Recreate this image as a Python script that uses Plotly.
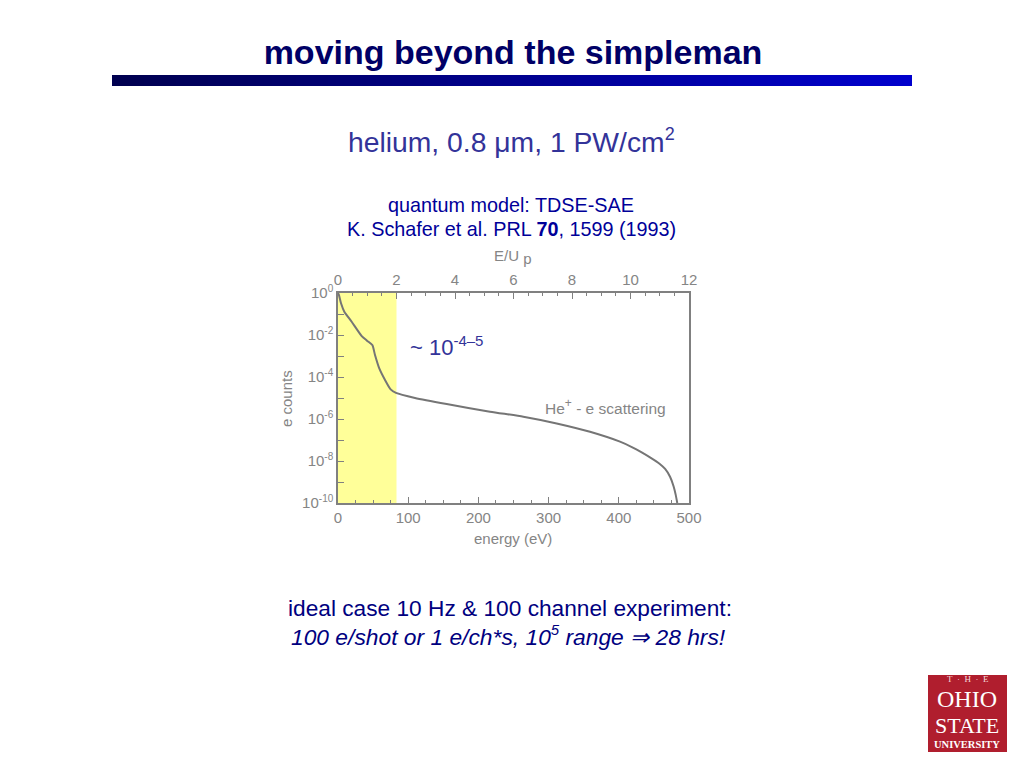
import plotly.graph_objects as go

# Data
energy_ev = [0, 1.4, 4.3, 9, 19.5, 33.8, 41.3, 48.9, 52.7, 58.8, 67, 75, 82.6, 109.7, 154.8,
             216.5, 264, 311.5, 359, 401.7, 420, 432, 445, 458, 466, 473, 478, 481, 483.3]
log10_counts = [0, -0.10, -0.49, -0.89, -1.37, -2.05, -2.27, -2.48, -2.95, -3.59, -4.14, -4.59,
                -4.76, -5.0, -5.29, -5.65, -5.89, -6.21, -6.61, -7.08, -7.36, -7.58, -7.84,
                -8.13, -8.38, -8.75, -9.2, -9.6, -10]
energy_ticks = [0, 100, 200, 300, 400, 500]
up_ticks = [0, 2, 4, 6, 8, 10, 12]
count_exponents = [0, -2, -4, -6, -8, -10]
minor_exponents = [-1, -3, -5, -7, -9]
band_up = [0, 2]

W, H = 1024, 768
px = lambda x: x / W
py = lambda y: 1 - y / H
GREY = "#858585"
FONT = "Liberation Sans"

fig = go.Figure()
fig.add_trace(go.Scatter(
    x=energy_ev, y=[10 ** v for v in log10_counts], mode="lines",
    line=dict(color="#757575", width=2, shape="spline", smoothing=0.6),
    showlegend=False, hoverinfo="skip", xaxis="x", yaxis="y"))
fig.add_trace(go.Scatter(
    x=band_up, y=[None, None], mode="lines", showlegend=False,
    hoverinfo="skip", xaxis="x2", yaxis="y"))

shapes = [dict(type="rect", xref="x2", yref="paper", x0=band_up[0], x1=band_up[1],
               y0=py(503), y1=py(293), fillcolor="#FFFF99", line_width=0, layer="below")]
# Gradient rule below the title: each step runs to the right end, so no seams show
n = 100
for i in range(n):
    t = i / (n - 1)
    c = f"rgb(0,0,{int(80 + t * 125)})"
    shapes.append(dict(type="rect", xref="paper", yref="paper",
                       x0=px(112 + 8 * i), x1=px(912),
                       y0=py(86), y1=py(75), fillcolor=c, line_width=0, layer="above"))
# Logo block
shapes.append(dict(type="rect", xref="paper", yref="paper", x0=px(928), x1=px(1007),
                   y0=py(752), y1=py(675), fillcolor="#B01E2E", line_width=0))


def note(x, y, text, size, color="#333399", family=FONT, **kw):
    return dict(xref="paper", yref="paper", x=px(x), y=py(y), text=text, showarrow=False,
                xanchor=kw.pop("xanchor", "center"), yanchor="middle",
                font=dict(family=family, size=size, color=color), **kw)


def sup(text, size):
    return f"<sup><span style='font-size:{size}px'>{text}</span></sup>"


NB = "\u00a0"
annotations = [
    note(511, 141, f"helium, 0.8 μm, 1 PW/cm{sup('2', 18)}", 28.3),
    note(511, 205, "quantum model: TDSE-SAE", 19.8, "#000099"),
    note(511, 229, "K. Schafer et al. PRL <b>70</b>, 1599 (1993)", 19.8, "#000099"),
    note(446, 346, f"~ 10{sup('-4–5', 15)}", 22),
    note(605, 406, f"He{sup('+', 12)} - e scattering", 15.5, GREY),
    note(510, 608, "ideal case 10 Hz &amp; 100 channel experiment:", 22.7, "#000080"),
    note(508, 635, f"<i>100 e/shot or 1 e/ch*s, 10{sup('5', 15)} range ⇒ 28 hrs!</i>", 22.8, "#000080"),
    note(513, 257, "E/U <sub><span style='font-size:15px'>p</span></sub>", 15, GREY),
    note(513, 538, "energy (eV)", 15, GREY),
    note(286, 399, "e counts", 15, GREY, textangle=-90),
    note(968, 679, f"T{NB*2}·{NB*2}H{NB*2}·{NB*2}E", 9, "#F3DCDC", "Liberation Serif"),
    note(967, 698.5, "OHIO", 24, "#FFFFFF", "Liberation Serif"),
    note(967, 725, "STATE", 22, "#FFFFFF", "Liberation Serif"),
    note(967, 744, "<b>UNIVERSITY</b>", 10.5, "#FFFFFF", "Liberation Serif"),
]

axis_common = dict(showgrid=False, zeroline=False, showline=True, linecolor="#808080", linewidth=1.5,
                   ticks="inside", ticklen=6, tickwidth=1, tickcolor="#808080", automargin=False,
                   tickfont=dict(family=FONT, size=15, color=GREY))

fig.update_layout(
    width=W, height=H, margin=dict(l=0, r=0, t=0, b=0), autosize=False,
    paper_bgcolor="white", plot_bgcolor="rgba(0,0,0,0)",
    title=dict(text="<b>moving beyond the simpleman</b>", x=513 / W, xanchor="center",
               y=py(52), yanchor="middle", font=dict(family=FONT, size=34, color="#000066")),
    xaxis=dict(domain=[px(338), px(689)], range=[0, 500], tickvals=energy_ticks,
               minor=dict(dtick=25, ticks="inside", ticklen=3, tickcolor="#808080"),
               anchor="y", **axis_common),
    xaxis2=dict(domain=[px(338), px(689)], range=[0, 12], tickvals=up_ticks, side="top",
                overlaying="x", anchor="y",
                minor=dict(dtick=0.5, ticks="inside", ticklen=3, tickcolor="#808080"),
                **axis_common),
    yaxis=dict(domain=[py(503), py(293)], type="log", range=[-10, 0],
               tickvals=[10.0 ** e for e in count_exponents],
               ticktext=[f"10{sup(e, 10)}" for e in count_exponents],
               minor=dict(tickvals=[10.0 ** e for e in minor_exponents], ticks="inside",
                          ticklen=6, tickcolor="#808080"),
               mirror=True, anchor="x", **axis_common),
    shapes=shapes, annotations=annotations, showlegend=False,
)

fig.write_html("out.html", config={"displayModeBar": False},
               post_script="document.body.style.margin='0';")
